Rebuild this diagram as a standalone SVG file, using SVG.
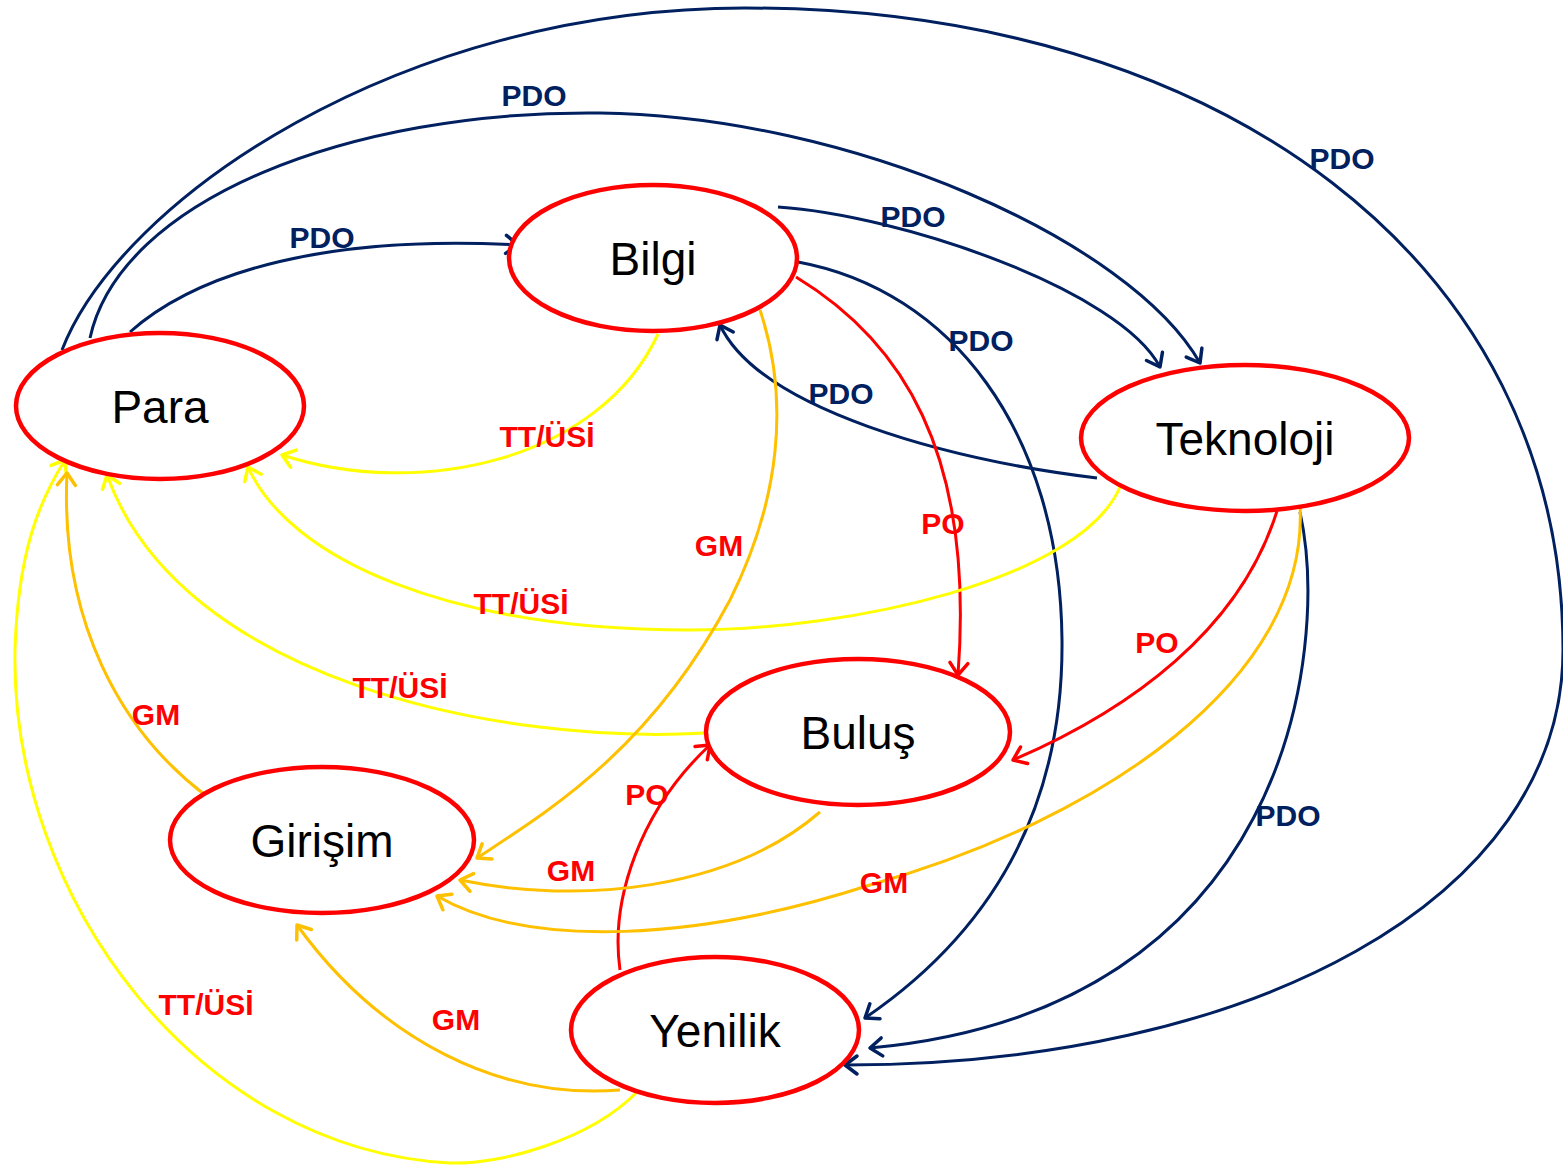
<svg xmlns="http://www.w3.org/2000/svg" width="1563" height="1165" viewBox="0 0 1563 1165">
<style>
.node ellipse{fill:#fff;stroke:#ff0000;stroke-width:4.5}
.node text{font-family:"Liberation Sans",Arial,sans-serif;font-size:46px;fill:#000;text-anchor:middle}
.c{fill:none;stroke-width:3}
.nv{stroke:#002060}
.rd{stroke:#ff0000}
.ye{stroke:#ffff00}
.or{stroke:#ffc000}
.lbl{font-family:"Liberation Sans",Arial,sans-serif;font-size:30px;font-weight:bold;text-anchor:middle}
.ln{fill:#002060}
.lr{fill:#ff0000}
</style>
<defs>
<marker id="aN" markerUnits="userSpaceOnUse" viewBox="-14 -12 16 24" markerWidth="16" markerHeight="24" refX="0" refY="0" orient="auto" overflow="visible"><path d="M-12,-9 L0,0 L-12,9" fill="none" stroke="#002060" stroke-width="3.5" stroke-linecap="round" stroke-linejoin="round"/></marker>
<marker id="aR" markerUnits="userSpaceOnUse" viewBox="-14 -12 16 24" markerWidth="16" markerHeight="24" refX="0" refY="0" orient="auto" overflow="visible"><path d="M-12,-9 L0,0 L-12,9" fill="none" stroke="#ff0000" stroke-width="3.5" stroke-linecap="round" stroke-linejoin="round"/></marker>
<marker id="aY" markerUnits="userSpaceOnUse" viewBox="-14 -12 16 24" markerWidth="16" markerHeight="24" refX="0" refY="0" orient="auto" overflow="visible"><path d="M-12,-9 L0,0 L-12,9" fill="none" stroke="#ffff00" stroke-width="3.5" stroke-linecap="round" stroke-linejoin="round"/></marker>
<marker id="aO" markerUnits="userSpaceOnUse" viewBox="-14 -12 16 24" markerWidth="16" markerHeight="24" refX="0" refY="0" orient="auto" overflow="visible"><path d="M-12,-9 L0,0 L-12,9" fill="none" stroke="#ffc000" stroke-width="3.5" stroke-linecap="round" stroke-linejoin="round"/></marker>
</defs>
<g id="connectors">
<!-- PDO navy -->
<path class="c nv" marker-end="url(#aN)" d="M130,332 C200,270 330,235 518,245"/>
<path class="c nv" marker-end="url(#aN)" d="M90,338 C120,200 350,110 600,113 C850,116 1130,240 1200,363"/>
<path class="c nv" marker-end="url(#aN)" d="M62,350 C120,200 400,8 745,8 C1220,8 1563,260 1563,650 C1563,900 1250,1065 845,1065"/>
<path class="c nv" marker-end="url(#aN)" d="M778,207 C900,215 1120,290 1160,367"/>
<path class="c nv" marker-end="url(#aN)" d="M798,262 C950,290 1060,430 1062,640 C1064,850 950,960 865,1018"/>
<path class="c nv" marker-end="url(#aN)" d="M1097,478 C950,460 760,410 720,325"/>
<path class="c nv" marker-end="url(#aN)" d="M1300,512 C1330,650 1290,1010 870,1048"/>
<!-- PO red -->
<path class="c rd" marker-end="url(#aR)" d="M796,277 C900,340 975,450 958,675"/>
<path class="c rd" marker-end="url(#aR)" d="M1277,511 C1240,630 1130,710 1013,760"/>
<path class="c rd" marker-end="url(#aR)" d="M620,970 C610,900 640,810 710,745"/>
<!-- TT/ÜSİ yellow -->
<path class="c ye" marker-end="url(#aY)" d="M658,334 C600,460 420,500 282,455"/>
<path class="c ye" marker-end="url(#aY)" d="M1120,487 C1080,580 850,630 690,630 C450,630 290,560 248,467"/>
<path class="c ye" marker-end="url(#aY)" d="M705,733 C500,745 180,680 107,475"/>
<path class="c ye" marker-end="url(#aY)" d="M637,1092 C590,1140 500,1165 450,1163 C200,1150 10,900 15,650 C18,550 40,500 65,460"/>
<!-- GM orange -->
<path class="c or" marker-end="url(#aO)" d="M760,310 C790,400 780,500 730,600 C650,750 550,810 477,858"/>
<path class="c or" marker-end="url(#aO)" d="M205,795 C120,730 60,620 67,473"/>
<path class="c or" marker-end="url(#aO)" d="M820,812 C730,890 580,905 460,880"/>
<path class="c or" marker-end="url(#aO)" d="M1300,505 C1310,680 1100,820 870,885 C700,940 530,950 437,896"/>
<path class="c or" marker-end="url(#aO)" d="M620,1090 C500,1100 380,1040 297,925"/>
</g>
<g id="labels">
<text class="lbl ln" x="322" y="248">PDO</text>
<text class="lbl ln" x="534" y="106">PDO</text>
<text class="lbl ln" x="1342" y="169">PDO</text>
<text class="lbl ln" x="913" y="227">PDO</text>
<text class="lbl ln" x="981" y="351">PDO</text>
<text class="lbl ln" x="841" y="404">PDO</text>
<text class="lbl ln" x="1288" y="826">PDO</text>
<text class="lbl lr" x="943" y="534">PO</text>
<text class="lbl lr" x="1157" y="653">PO</text>
<text class="lbl lr" x="647" y="805">PO</text>
<text class="lbl lr" x="547" y="447">TT/ÜSİ</text>
<text class="lbl lr" x="521" y="614">TT/ÜSİ</text>
<text class="lbl lr" x="400" y="698">TT/ÜSİ</text>
<text class="lbl lr" x="206" y="1015">TT/ÜSİ</text>
<text class="lbl lr" x="719" y="556">GM</text>
<text class="lbl lr" x="156" y="725">GM</text>
<text class="lbl lr" x="571" y="881">GM</text>
<text class="lbl lr" x="884" y="893">GM</text>
<text class="lbl lr" x="456" y="1030">GM</text>
</g>
<g id="node-para" class="node"><ellipse cx="160" cy="406" rx="144" ry="73"/><text x="160" y="423">Para</text></g>
<g id="node-bilgi" class="node"><ellipse cx="653" cy="258" rx="144" ry="73"/><text x="653" y="275">Bilgi</text></g>
<g id="node-teknoloji" class="node"><ellipse cx="1245" cy="438" rx="164" ry="73"/><text x="1245" y="455">Teknoloji</text></g>
<g id="node-bulus" class="node"><ellipse cx="858" cy="732" rx="152" ry="73"/><text x="858" y="749">Buluş</text></g>
<g id="node-girisim" class="node"><ellipse cx="322" cy="840" rx="152" ry="73"/><text x="322" y="857">Girişim</text></g>
<g id="node-yenilik" class="node"><ellipse cx="715" cy="1030" rx="144" ry="73"/><text x="715" y="1047">Yenilik</text></g>
</svg>
